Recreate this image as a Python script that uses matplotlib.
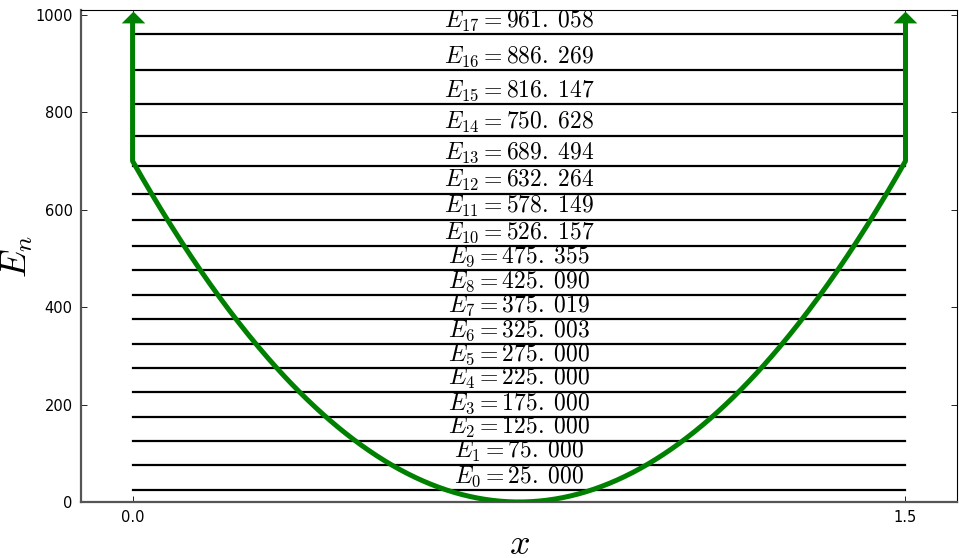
import numpy as np
import matplotlib
matplotlib.use("Agg")
import matplotlib.pyplot as plt

plt.rcParams['mathtext.fontset'] = 'cm'

# Data
levels = [25.000, 75.000, 125.000, 175.000, 225.000, 275.000, 325.003, 375.019,
          425.090, 475.355, 526.157, 578.149, 632.264, 689.494, 750.628, 816.147,
          886.269, 961.058]
x_left, x_right = 0.0, 1.5
wall_height = 700.0
shaft_top = 988.0
head_center = 996.0
xticks = [0.0, 1.5]
yticks = [0, 200, 400, 600, 800, 1000]

fig = plt.figure(figsize=(9.66, 5.58), dpi=100)
ax = fig.add_axes([0.0839, 0.1004, 0.9068, 0.8816])

# potential well (parabola) with vertical walls
xc = 0.5 * (x_left + x_right)
xs = np.linspace(x_left, x_right, 400)
V = wall_height * ((xs - xc) / (x_right - xc)) ** 2
px = np.concatenate([[x_left], xs, [x_right]])
py = np.concatenate([[shaft_top], V, [shaft_top]])
ax.plot(px, py, color='green', lw=3.6, zorder=3, solid_joinstyle='round')

# arrow heads
head = [(-1, -0.5), (1, -0.5), (0, 0.5), (-1, -0.5)]
ax.plot([x_left, x_right], [head_center, head_center], linestyle='none',
        marker=head, markersize=17, color='green', markeredgewidth=0,
        zorder=4, clip_on=False)

# energy levels
for n, E in enumerate(levels):
    ax.plot([x_left, x_right], [E, E], color='black', lw=1.6, zorder=2)
    whole, frac = ('%.3f' % E).split('.')
    ax.text(xc, E + 2, r'$E_{%d} = %s.\;%s$' % (n, whole, frac), ha='center',
            va='bottom', fontsize=17)

ax.set_xlim(-0.1, 1.6)
ax.set_ylim(0, 1010)
ax.set_xticks(xticks)
ax.set_xticklabels(['%.1f' % t for t in xticks])
ax.set_yticks(yticks)
ax.tick_params(direction='in', top=True, right=True, labelsize=10.5, length=4,
               width=0.6, pad=6)
for s in ('left', 'bottom'):
    ax.spines[s].set_color('#555555')
    ax.spines[s].set_linewidth(1.6)
for s in ('top', 'right'):
    ax.spines[s].set_color('black')
    ax.spines[s].set_linewidth(0.8)

ax.set_xlabel(r'$x$', fontsize=26)
ax.set_ylabel(r'$E_n$', fontsize=26)
ax.yaxis.set_label_coords(-0.052, 0.5)
ax.xaxis.set_label_coords(0.5, -0.05)

fig.savefig('out.png', dpi=100)
